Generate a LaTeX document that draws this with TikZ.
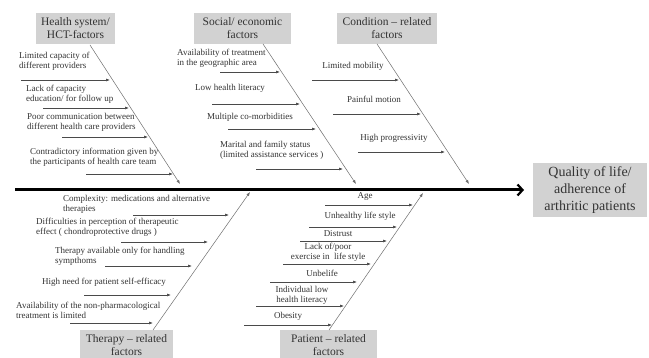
\documentclass[tikz,border=0pt]{standalone}
\usepackage{fontspec}
\setmainfont{Liberation Serif}
\usetikzlibrary{arrows.meta}
\definecolor{boxgray}{HTML}{D2D2D2}
\definecolor{txt}{HTML}{333333}
\definecolor{ln}{HTML}{4A4A4A}
\begin{document}
\begin{tikzpicture}[x=1pt,y=-1pt,
  catbox/.style={fill=boxgray,text=txt,align=center,font=\fontsize{11.5}{13}\selectfont,inner sep=0pt},
  lbl/.style={text=txt,font=\fontsize{9}{10.2}\selectfont,inner sep=0pt},
  lbll/.style={lbl,align=left,anchor=north west},
  lblc/.style={lbl,align=center},
  bone/.style={draw=ln!80,line width=0.5pt,-{Latex[length=4pt,width=3pt]}},
  branch/.style={draw=ln,line width=0.6pt,-{Latex[length=4pt,width=3pt]}},
  spine/.style={draw=black,line width=3pt,-{Straight Barb[length=5pt,width=11pt,line width=2.2pt]}}]
\useasboundingbox (0,0) rectangle (649,358);
\fill[white] (0,0) rectangle (649,358);

% spine and effect
\coordinate (s0) at (15,190);
\coordinate (s1) at (524,190);
\draw[spine] (s0) -- (s1);
\node[catbox,font=\fontsize{14}{17}\selectfont,minimum width=114pt,minimum height=54pt] (eff) at (590,190) {Quality of life/\\adherence of\\arthritic patients};

% category boxes
\node[catbox,minimum width=79pt,minimum height=31pt] (hs) at (75.5,28.5) {Health system/\\HCT-factors};
\node[catbox,minimum width=97pt,minimum height=31pt] (se) at (242.5,28.5) {Social/ economic\\factors};
\node[catbox,minimum width=100pt,minimum height=31pt] (cr) at (387,28.5) {Condition -- related\\factors};
\node[catbox,minimum width=93pt,minimum height=30pt] (tr) at (126.5,345) {Therapy -- related\\factors};
\node[catbox,minimum width=97pt,minimum height=30pt] (pr) at (328.5,345) {Patient -- related\\factors};

% bones
\coordinate (hsA) at (90,45); \coordinate (hsB) at (180,184);
\coordinate (seA) at (263,44); \coordinate (seB) at (356,184);
\coordinate (crA) at (377,44); \coordinate (crB) at (469,184);
\coordinate (trA) at (153,330); \coordinate (trB) at (250,192);
\coordinate (prA) at (329,330); \coordinate (prB) at (423,193);
\draw[bone] (hsA) -- (hsB);
\draw[bone] (seA) -- (seB);
\draw[bone] (crA) -- (crB);
\draw[bone] (trA) -- (trB);
\draw[bone] (prA) -- (prB);

% Health system branches
\node[lbll] (h1) at (19,52) {Limited capacity of\\different providers};
\coordinate (h1a) at (21,80); \coordinate (h1b) at (110,80);
\draw[branch] (h1a) -- (h1b);
\node[lbll] (h2) at (26,85) {Lack of capacity\\education/ for follow up};
\coordinate (h2a) at (43,108); \coordinate (h2b) at (129,108);
\draw[branch] (h2a) -- (h2b);
\node[lbll] (h3) at (27,113) {Poor communication between\\different health care providers};
\coordinate (h3a) at (62,137); \coordinate (h3b) at (148,137);
\draw[branch] (h3a) -- (h3b);
\node[lbll] (h4) at (30,148) {Contradictory information given by\\the participants of health care team};
\coordinate (h4a) at (86,174); \coordinate (h4b) at (173,174);
\draw[branch] (h4a) -- (h4b);

% Social branches
\node[lbll] (e1) at (177,49) {Availability of treatment\\in the geographic area};
\coordinate (e1a) at (220,72); \coordinate (e1b) at (280,72);
\draw[branch] (e1a) -- (e1b);
\node[lblc] (e2) at (230,88) {Low health literacy};
\coordinate (e2a) at (212,104); \coordinate (e2b) at (300,104);
\draw[branch] (e2a) -- (e2b);
\node[lblc] (e3) at (250,117) {Multiple co-morbidities};
\coordinate (e3a) at (228,129); \coordinate (e3b) at (316,129);
\draw[branch] (e3a) -- (e3b);
\node[lbll] (e4) at (220,141) {Marital and family status\\(limited assistance services )};
\coordinate (e4a) at (256,169); \coordinate (e4b) at (343,169);
\draw[branch] (e4a) -- (e4b);

% Condition branches
\node[lblc] (c1) at (353,66) {Limited mobility};
\coordinate (c1a) at (312,80); \coordinate (c1b) at (399,80);
\draw[branch] (c1a) -- (c1b);
\node[lblc] (c2) at (374,99) {Painful motion};
\coordinate (c2a) at (333,114); \coordinate (c2b) at (421,114);
\draw[branch] (c2a) -- (c2b);
\node[lblc] (c3) at (394,138) {High progressivity};
\coordinate (c3a) at (358,152); \coordinate (c3b) at (445,152);
\draw[branch] (c3a) -- (c3b);

% Therapy branches
\node[lbll] (t1) at (63,195) {Complexity: medications and alternative\\therapies};
\coordinate (t1a) at (133,215); \coordinate (t1b) at (229,215);
\draw[branch] (t1a) -- (t1b);
\node[lbll] (t2) at (36,218) {Difficulties in perception of therapeutic\\effect ( chondroprotective drugs )};
\coordinate (t2a) at (121,242); \coordinate (t2b) at (208,242);
\draw[branch] (t2a) -- (t2b);
\node[lbll] (t3) at (55,247) {Therapy available only for handling\\sympthoms};
\coordinate (t3a) at (105,266); \coordinate (t3b) at (192,266);
\draw[branch] (t3a) -- (t3b);
\node[lbll] (t4) at (42,278) {High need for patient self-efficacy};
\coordinate (t4a) at (84,295); \coordinate (t4b) at (171,295);
\draw[branch] (t4a) -- (t4b);
\node[lbll] (t5) at (16,302) {Availability of the non-pharmacological\\treatment is limited};
\coordinate (t5a) at (70,323); \coordinate (t5b) at (153,323);
\draw[branch] (t5a) -- (t5b);

% Patient branches
\node[lblc] (p1) at (365,196.5) {Age};
\coordinate (p1a) at (325,205); \coordinate (p1b) at (413,205);
\draw[branch] (p1a) -- (p1b);
\node[lblc] (p2) at (360,216) {Unhealthy life style};
\coordinate (p2a) at (309,227); \coordinate (p2b) at (397,227);
\draw[branch] (p2a) -- (p2b);
\node[lblc] (p3) at (338,234) {Distrust};
\coordinate (p3a) at (300,241); \coordinate (p3b) at (387,241);
\draw[branch] (p3a) -- (p3b);
\node[lblc] (p4) at (328,252) {Lack of/poor\\exercise in\ \ life style};
\coordinate (p4a) at (283,264); \coordinate (p4b) at (371,264);
\draw[branch] (p4a) -- (p4b);
\node[lblc] (p5) at (322,273) {Unbelife};
\coordinate (p5a) at (270,282); \coordinate (p5b) at (357,282);
\draw[branch] (p5a) -- (p5b);
\node[lblc] (p6) at (302,295) {Individual low\\health literacy};
\coordinate (p6a) at (256,306); \coordinate (p6b) at (344,306);
\draw[branch] (p6a) -- (p6b);
\node[lblc] (p7) at (288,316) {Obesity};
\coordinate (p7a) at (244,325); \coordinate (p7b) at (332,325);
\draw[branch] (p7a) -- (p7b);
\end{tikzpicture}
\end{document}
